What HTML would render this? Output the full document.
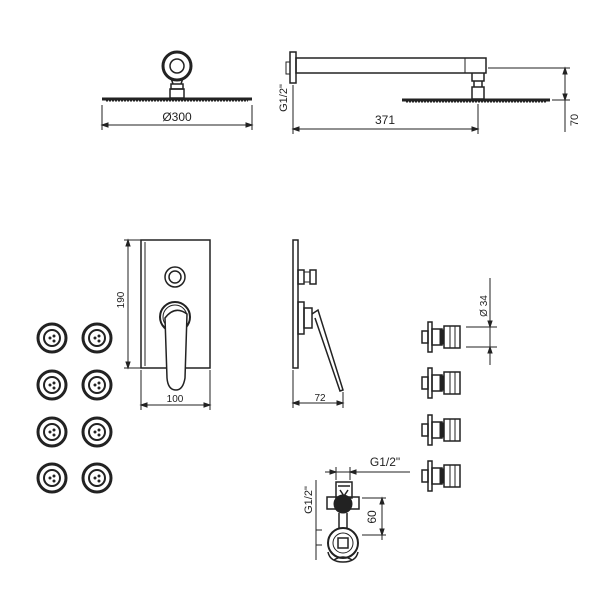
<!DOCTYPE html>
<html><head><meta charset="utf-8"><style>
html,body{margin:0;padding:0;background:#fff;}
svg{display:block;}
text{font-family:"Liberation Sans",sans-serif;fill:#222;}
</style></head><body>
<svg width="600" height="600" viewBox="0 0 600 600" xmlns="http://www.w3.org/2000/svg">
<g stroke="#222" fill="none" stroke-width="1">
<!-- top-left shower head -->
<circle cx="177" cy="66" r="14" stroke-width="3"/>
<circle cx="177" cy="66" r="7" stroke-width="1.5"/>
<path d="M171 78 L173 84 M183 78 L181 84" stroke-width="1.5"/>
<rect x="171" y="84" width="12" height="5" stroke-width="1.5"/>
<rect x="170" y="89" width="14" height="9" stroke-width="1.5"/>
<path d="M102 99 H252" stroke-width="3"/>
<path d="M106 101 H248" stroke-width="1" stroke-dasharray="2 1"/>
<path d="M102 105 V130 M252 105 V130 M102 125 H252"/>
<path d="M102 125 l6 -2 v4z M252 125 l-6 -2 v4z" fill="#222"/>
<!-- arm side view -->
<rect x="290" y="52" width="6" height="31" stroke-width="1.5"/>
<rect x="286" y="62" width="4" height="12"/>
<rect x="296" y="58" width="190" height="15" stroke-width="1.5"/>
<path d="M465 58 V73"/>
<path d="M472 73 v8 h12 v-8 M474 81 v6 h8 v-6 M472 87 h12 v12 h-12z" stroke-width="1.5"/>
<path d="M402 100 H550" stroke-width="3"/>
<path d="M406 102 H546" stroke-dasharray="2 1"/>
<path d="M293 85 V134 M478 104 V134 M293 129 H478"/>
<path d="M293 129 l6 -2 v4z M478 129 l-6 -2 v4z" fill="#222"/>
<path d="M488 68 H570 M552 100 H570 M565 68 V132"/>
<path d="M565 68 l-2 6 h4z M565 100 l-2 -6 h4z" fill="#222"/>
<!-- mixer front -->
<rect x="141" y="240" width="69" height="128" stroke-width="1.5"/>
<path d="M145 242 V366"/>
<path d="M141 240 H124 M141 368 H124 M128 240 V368"/>
<path d="M128 240 l-2 6 h4z M128 368 l-2 -6 h4z" fill="#222"/>
<circle cx="175" cy="277" r="10" stroke-width="1.5"/>
<circle cx="175" cy="277" r="6" stroke-width="1.5"/>
<circle cx="175" cy="317" r="15" stroke-width="2" fill="#fff"/>
<circle cx="175" cy="317" r="12"/>
<path d="M165 318 Q175 305 187 314 L185 378 Q183 390 176 390 Q168 390 167 378 Z" stroke-width="1.5" fill="#fff"/>
<path d="M141 370 V410 M210 370 V410 M141 405 H210"/>
<path d="M141 405 l6 -2 v4z M210 405 l-6 -2 v4z" fill="#222"/>
<!-- mixer side -->
<rect x="293" y="240" width="5" height="128" stroke-width="1.5"/>
<rect x="298" y="270" width="6" height="14" stroke-width="1.5"/>
<rect x="304" y="272" width="6" height="10"/>
<rect x="310" y="270" width="6" height="14" stroke-width="1.5"/>
<rect x="298" y="302" width="6" height="32" stroke-width="1.5"/>
<rect x="304" y="308" width="8" height="20" stroke-width="1.5"/>
<path d="M312 314 L318 310 L343 390 L340 391 L315 318" stroke-width="1.5"/>
<path d="M293 370 V408 M343 392 V408 M293 403 H343"/>
<path d="M293 403 l6 -2 v4z M343 403 l-6 -2 v4z" fill="#222"/>
<!-- body jets side -->
<g id="jet">
<rect x="422" y="331" width="6" height="12" stroke-width="1.5"/>
<rect x="428" y="322" width="4" height="30" stroke-width="1.5"/>
<rect x="432" y="329" width="10" height="16" stroke-width="1.5"/>
<rect x="440" y="330" width="4" height="14" fill="#222"/>
<rect x="444" y="326" width="16" height="22" stroke-width="1.5"/>
<path d="M450 326 V348 M455 326 V348"/>
</g>
<use href="#jet" y="46"/>
<use href="#jet" y="93"/>
<use href="#jet" y="139"/>
<path d="M466 327 H497 M466 347 H497 M490 278 V365"/>
<path d="M490 327 l-2 -6 h4z M490 347 l-2 6 h4z" fill="#222"/>
<!-- valve -->
<path d="M336 482 h16 v16 h-16z M338 486 h12 M340 490 l4 6 l4 -6" stroke-width="1.5"/>
<path d="M327 497 h32 v12 h-32z" stroke-width="1.5"/>
<circle cx="343" cy="504" r="9" fill="#222"/>
<path d="M339 513 V528 M347 513 V528" stroke-width="1.5"/>
<circle cx="343" cy="543" r="15" stroke-width="2"/>
<circle cx="343" cy="543" r="10"/>
<rect x="338" y="538" width="10" height="10" stroke-width="1.5"/>
<path d="M328 552 q2 10 15 10 q13 0 15 -10 M334 560 q9 -6 18 0" stroke-width="1.5"/>
<path d="M325 472 H410 M336 467 V480 M350 467 V480"/>
<path d="M336 472 l-6 -2 v4z M350 472 l6 -2 v4z" fill="#222"/>
<path d="M316 480 V560 M316 530 H322 M316 545 H322"/>
<path d="M362 498 H386 M362 535 H386 M382 498 V540"/>
<path d="M382 498 l-2 6 h4z M382 535 l-2 -6 h4z" fill="#222"/>
</g>
<!-- body jets front -->
<g id="jf" fill="none" stroke="#222">
<circle cx="52" cy="338" r="14" stroke-width="3"/>
<circle cx="52" cy="338" r="8" stroke-width="2"/>
<circle cx="50" cy="338" r="1.5" fill="#222" stroke="none"/>
<circle cx="54" cy="336" r="1.5" fill="#222" stroke="none"/>
<circle cx="54" cy="341" r="1.5" fill="#222" stroke="none"/>
</g>
<use href="#jf" x="45"/>
<use href="#jf" y="47"/><use href="#jf" x="45" y="47"/>
<use href="#jf" y="94"/><use href="#jf" x="45" y="94"/>
<use href="#jf" y="140"/><use href="#jf" x="45" y="140"/>
<!-- labels -->
<text x="177" y="121" font-size="12" text-anchor="middle">Ø300</text>
<text x="385" y="124" font-size="12" text-anchor="middle">371</text>
<text transform="translate(287,98) rotate(-90)" font-size="11" text-anchor="middle">G1/2"</text>
<text transform="translate(578,120) rotate(-90)" font-size="11" text-anchor="middle">70</text>
<text transform="translate(124,300) rotate(-90)" font-size="10" text-anchor="middle">190</text>
<text x="175" y="402" font-size="10" text-anchor="middle">100</text>
<text x="320" y="401" font-size="10" text-anchor="middle">72</text>
<text transform="translate(487,306) rotate(-90)" font-size="10" text-anchor="middle">Ø 34</text>
<text x="385" y="466" font-size="12" text-anchor="middle">G1/2"</text>
<text transform="translate(312,500) rotate(-90)" font-size="11" text-anchor="middle">G1/2"</text>
<text transform="translate(376,517) rotate(-90)" font-size="12" text-anchor="middle">60</text>
</svg>
</body></html>
